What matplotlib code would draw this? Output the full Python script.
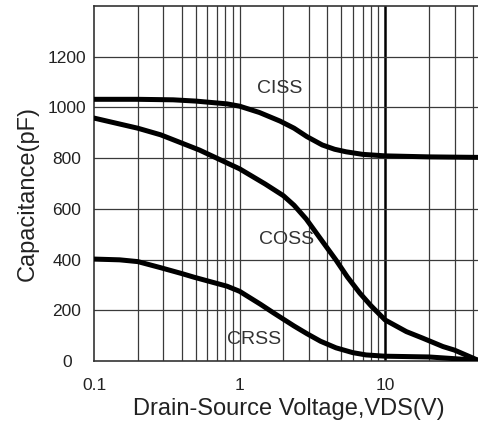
import matplotlib
matplotlib.use("Agg")
import matplotlib.pyplot as plt
from matplotlib.ticker import FixedLocator, NullFormatter

plt.rcParams['font.family'] = ['Liberation Sans', 'DejaVu Sans']

# valores
v_ciss = [0.1, 0.2, 0.35, 0.5, 0.82, 1.0, 1.37, 1.9, 2.37, 2.9, 3.7, 4.5, 5.4, 7, 10, 20, 43.5]
c_ciss = [1032, 1032, 1030, 1025, 1014, 1005, 980, 946, 918, 885, 852, 835, 825, 815, 809, 805, 803]

v_coss = [0.1, 0.2, 0.287, 0.53, 0.82, 1.0, 1.5, 2.0, 2.37, 2.87, 3.6, 4.6, 5.5, 6.7, 8, 10, 14, 18, 25, 30, 43.5]
c_coss = [958, 918, 892, 832, 781, 758, 698, 652, 614, 560, 482, 398, 332, 268, 218, 162, 116, 91, 57, 43, 3]

v_crss = [0.1, 0.15, 0.2, 0.287, 0.4, 0.49, 0.82, 1.0, 1.39, 1.71, 2.37, 2.9, 3.6, 4.6, 6, 7.4, 10, 20, 43.5]
c_crss = [402, 399, 392, 368, 345, 330, 295, 275, 224, 190, 138, 108, 78, 52, 33, 24, 19, 16, 3]

y_ticks = [0, 200, 400, 600, 800, 1000, 1200]
x_ticks = [0.1, 1, 10]
x_labels = ["0.1", "1", "10"]

fig = plt.figure(figsize=(4.78, 4.28), dpi=100)
ax = fig.add_axes([0.1967, 0.1565, 0.8033, 0.8295])

ax.set_xscale("log")
ax.set_xlim(0.1, 43.5)
ax.set_ylim(0, 1400)

# rejilla
minors = [m * d for d in (0.1, 1, 10) for m in range(2, 10) if m * d < 43.5]
for x in minors + [1]:
    ax.axvline(x, color="#3a3a3a", lw=0.9, zorder=1)
ax.axvline(10, color="black", lw=1.8, zorder=1)
for y in y_ticks[1:]:
    ax.axhline(y, color="#3a3a3a", lw=0.9, zorder=1)

for v, c in [(v_ciss, c_ciss), (v_coss, c_coss), (v_crss, c_crss)]:
    ax.plot(v, c, color="black", lw=3.6, solid_capstyle="round",
            solid_joinstyle="round", zorder=3)

ax.text(1.90, 1073, "CISS", fontsize=14, ha="center", va="center", color="#333")
ax.text(2.09, 479, "COSS", fontsize=14, ha="center", va="center", color="#333")
ax.text(1.26, 83, "CRSS", fontsize=14, ha="center", va="center", color="#333")

ax.xaxis.set_major_locator(FixedLocator(x_ticks))
ax.set_xticklabels(x_labels)
ax.xaxis.set_minor_formatter(NullFormatter())
ax.set_yticks(y_ticks)
ax.tick_params(which="both", length=0, labelsize=12.5, colors="#222")
ax.tick_params(axis="y", pad=19.5)
ax.tick_params(axis="x", pad=12)
for lab in ax.get_yticklabels():
    lab.set_horizontalalignment("center")

for s in ["left", "top", "bottom"]:
    ax.spines[s].set_color("#333")
    ax.spines[s].set_linewidth(1.2)
ax.spines["right"].set_visible(False)

ax.set_xlabel("Drain-Source Voltage,VDS(V)", fontsize=17, color="#222")
ax.set_ylabel("Capacitance(pF)", fontsize=17, color="#222")
ax.xaxis.set_label_coords(0.508, -0.105)
ax.yaxis.set_label_coords(-0.145, 0.472)

plt.savefig("out.png", dpi=100)
plt.close()
